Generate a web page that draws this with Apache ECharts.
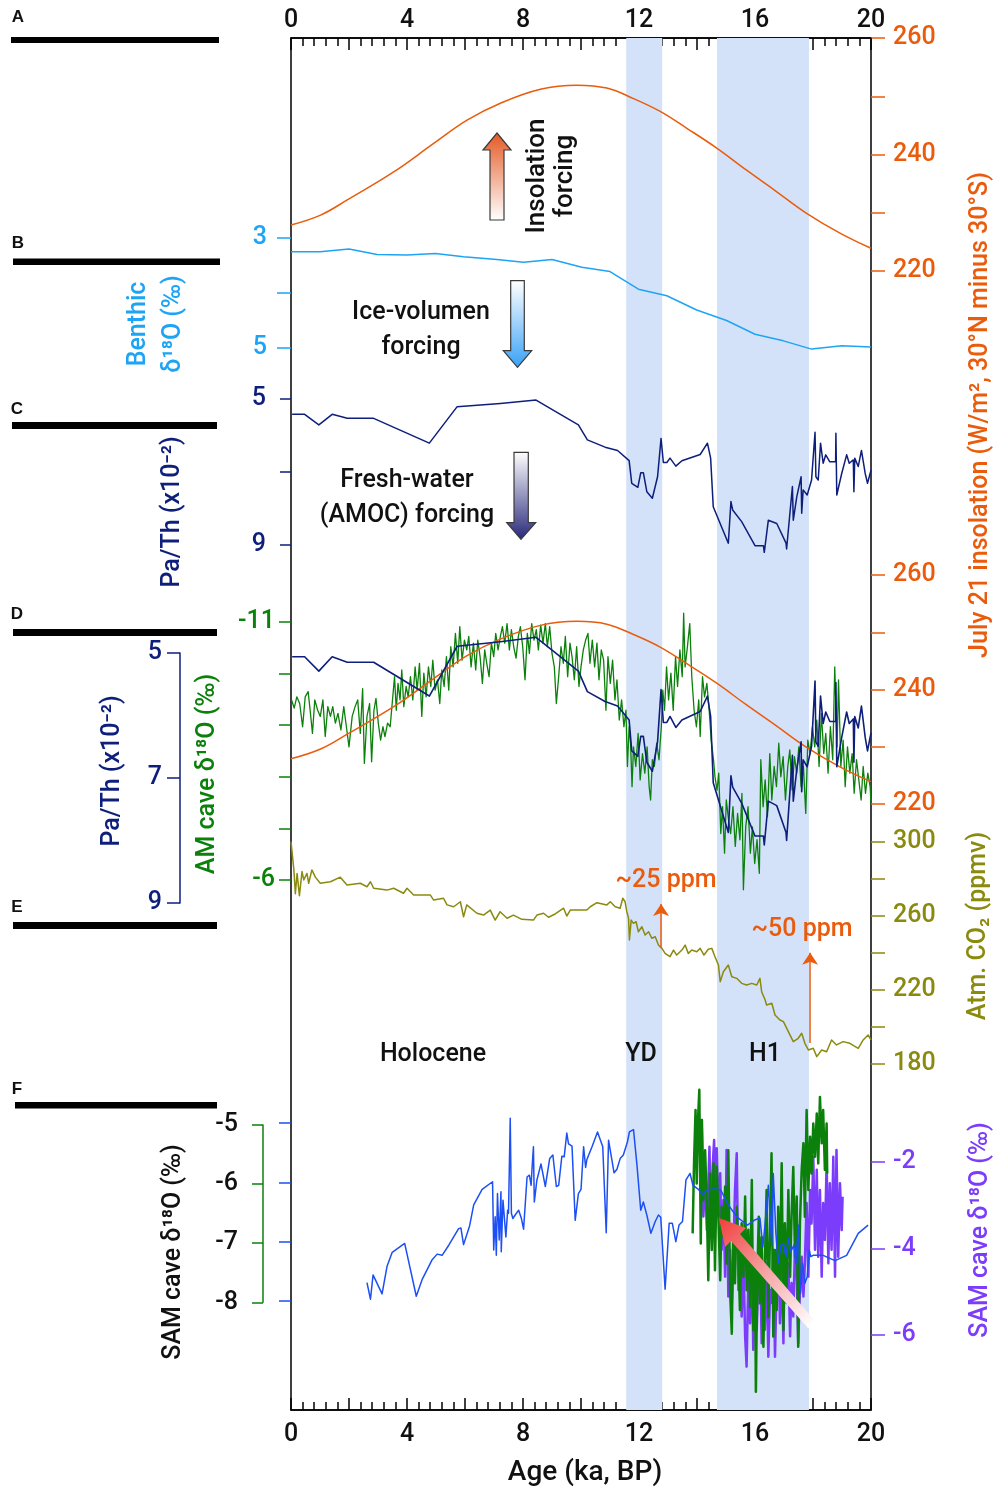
<!DOCTYPE html>
<html><head><meta charset="utf-8">
<script src="https://cdn.jsdelivr.net/npm/echarts@6/dist/echarts.min.js"></script>
<style>html,body{margin:0;padding:0;background:#fff}#c{width:994px;height:1489px}</style>
</head><body><div id="c"></div>
<script>
// ---------------- DATA ----------------
const ageTicks = [0, 4, 8, 12, 16, 20];
const ydBand = [11.56, 12.80];
const h1Band = [14.69, 17.86];

// July 21 insolation (W/m2)
const insolation = [[0,227.9],[1.02,229.6],[1.94,232.2],[3.54,237.0],[4.92,241.9],[6.07,245.9],[7.22,248.8],[8.60,251.2],[9.86,251.9],[10.89,251.4],[11.81,249.6],[12.73,247.4],[13.65,244.5],[14.68,241.1],[15.71,237.3],[16.75,233.6],[17.78,229.9],[18.93,226.5],[20,223.9]];

// Benthic d18O
const benthic = [[0,3.25],[1.0,3.25],[2.0,3.20],[2.97,3.30],[4.0,3.31],[4.98,3.28],[5.95,3.34],[7.1,3.39],[8.02,3.44],[9.0,3.39],[10.03,3.53],[11.0,3.61],[11.98,3.93],[12.96,4.05],[13.99,4.31],[15.02,4.50],[16.0,4.75],[16.98,4.87],[17.95,5.02],[18.99,4.96],[20,4.98]];

// Pa/Th (x10^-2)
const paTh = [[0.04,5.42],[0.47,5.42],[0.96,5.71],[1.42,5.42],[1.94,5.53],[2.85,5.53],[4.77,6.21],[5.73,5.21],[7.22,5.12],[8.45,5.03],[9.91,5.71],[10.22,6.12],[10.83,6.32],[11.26,6.41],[11.66,6.69],[11.75,7.31],[11.96,7.42],[12.06,7.02],[12.15,7.02],[12.27,7.54],[12.46,7.72],[12.64,7.13],[12.76,6.08],[12.84,6.74],[12.96,6.74],[13.07,6.62],[13.27,6.84],[13.48,6.69],[14.11,6.52],[14.36,6.21],[14.47,6.62],[14.56,7.95],[15.08,8.95],[15.17,7.81],[15.23,8.04],[15.54,8.36],[16.0,9.02],[16.29,9.02],[16.32,9.20],[16.46,8.32],[16.75,8.41],[17.07,8.95],[17.09,9.11],[17.15,8.59],[17.29,7.40],[17.32,8.32],[17.44,7.68],[17.59,7.13],[17.61,8.13],[17.66,7.49],[17.80,7.63],[17.95,7.22],[18.07,5.91],[18.10,7.13],[18.18,7.22],[18.26,6.21],[18.35,6.76],[18.44,6.53],[18.58,6.72],[18.78,6.72],[18.79,5.94],[18.82,7.63],[18.99,7.04],[19.16,6.53],[19.25,6.76],[19.39,6.67],[19.41,7.54],[19.44,6.62],[19.56,6.85],[19.67,6.41],[19.80,7.04],[19.88,7.31],[20,6.95]];

// AM cave d18O (permil)
const amCave = [[0.02,-9.49],[0.11,-9.33],[0.20,-9.55],[0.30,-9.42],[0.40,-8.97],[0.49,-9.55],[0.59,-9.65],[0.66,-9.29],[0.74,-8.84],[0.82,-9.49],
[0.92,-9.29],[1.01,-9.17],[1.10,-9.49],[1.18,-8.78],[1.27,-9.36],[1.36,-9.17],[1.44,-9.36],[1.53,-9.04],[1.62,-9.23],[1.72,-8.91],
[1.82,-9.36],[1.91,-8.97],[2.00,-8.58],[2.11,-9.17],[2.21,-9.36],[2.30,-9.49],[2.39,-8.84],[2.47,-9.71],[2.53,-8.26],[2.62,-9.17],
[2.71,-9.42],[2.78,-8.29],[2.86,-9.29],[2.93,-9.52],[3.01,-9.04],[3.09,-8.71],[3.17,-8.97],[3.24,-8.78],[3.33,-9.04],[3.42,-8.97],
[3.50,-9.49],[3.57,-9.94],[3.63,-9.29],[3.69,-9.81],[3.76,-9.49],[3.82,-10.07],[3.89,-9.36],[3.97,-9.75],[4.04,-9.55],[4.12,-9.94],
[4.20,-9.49],[4.28,-10.13],[4.35,-9.68],[4.43,-10.20],[4.51,-9.17],[4.58,-10.01],[4.66,-9.55],[4.74,-10.13],[4.82,-9.75],[4.89,-10.26],
[4.97,-9.68],[5.05,-9.88],[5.13,-9.42],[5.20,-10.07],[5.28,-9.75],[5.36,-10.33],[5.44,-9.68],[5.51,-10.52],[5.59,-10.13],[5.67,-10.78],
[5.75,-10.20],[5.82,-10.91],[5.90,-10.26],[5.98,-10.65],
[6.06,-10.46],[6.13,-10.72],[6.21,-10.13],[6.29,-10.59],[6.37,-10.07],[6.44,-10.65],[6.52,-10.33],[6.60,-9.81],[6.68,-10.46],[6.75,-10.20],
[6.83,-9.94],[6.91,-10.59],[6.99,-10.33],[7.06,-10.78],[7.14,-10.46],[7.22,-10.72],[7.29,-10.91],[7.37,-10.59],[7.45,-10.97],[7.53,-10.46],
[7.60,-10.85],[7.68,-10.52],[7.76,-10.30],[7.84,-10.72],[7.91,-10.91],[7.99,-10.52],[8.07,-9.88],[8.15,-10.78],[8.22,-10.39],[8.30,-10.97],
[8.38,-10.65],[8.46,-10.85],[8.53,-10.46],[8.61,-10.94],[8.69,-10.59],[8.77,-10.97],[8.84,-10.52],[8.92,-10.91],[9.00,-10.39],[9.08,-10.13],
[9.15,-9.42],[9.23,-9.94],[9.31,-10.52],[9.39,-10.20],[9.46,-10.72],[9.54,-9.94],[9.62,-10.59],[9.69,-10.33],[9.77,-9.88],[9.85,-10.52],
[9.93,-9.75],[10.00,-10.13],[10.08,-10.46],[10.16,-10.65],[10.24,-10.78],[10.31,-10.20],[10.39,-10.65],[10.47,-10.13],[10.55,-10.59],[10.62,-9.88],
[10.70,-10.46],[10.78,-10.26],[10.86,-9.29],[10.93,-10.33],[11.01,-9.81],[11.09,-10.26],[11.17,-9.49],[11.24,-9.88],[11.32,-9.10],[11.40,-9.49],
[11.48,-8.97],[11.55,-9.29],[11.60,-8.20],[11.66,-8.97],[11.71,-8.65],[11.76,-7.81],[11.81,-8.58],[11.89,-8.20],[11.97,-8.84],[12.04,-7.94],
[12.12,-8.45],[12.20,-8.07],[12.28,-8.58],[12.35,-7.81],[12.40,-7.55],[12.46,-8.33],[12.53,-8.20],[12.61,-8.65],[12.69,-8.33],[12.77,-8.97],
[12.82,-9.68],[12.88,-9.29],[12.95,-10.13],[13.02,-9.49],[13.10,-10.01],[13.18,-9.29],[13.26,-10.33],[13.33,-9.75],[13.41,-10.46],[13.49,-9.94],
[13.54,-11.17],[13.59,-10.13],[13.67,-10.52],[13.75,-10.97],[13.82,-9.94],[13.90,-9.29],[13.98,-8.97],[14.06,-9.49],[14.11,-8.78],[14.19,-9.94],
[14.26,-9.55],[14.34,-9.81],[14.42,-9.29],[14.49,-8.71],[14.57,-8.33],
[14.62,-8.00],[14.69,-7.74],[14.75,-8.07],[14.82,-6.90],[14.88,-7.42],[14.95,-6.52],[15.01,-7.55],[15.09,-7.16],[15.16,-6.90],[15.24,-7.42],
[15.32,-6.65],[15.40,-7.29],[15.48,-6.78],[15.55,-7.68],[15.60,-5.81],[15.68,-7.03],[15.76,-7.42],[15.84,-6.52],[15.91,-7.03],[15.99,-6.32],
[16.07,-6.78],[16.15,-6.13],[16.20,-8.33],[16.28,-7.42],[16.35,-7.94],[16.43,-7.23],[16.51,-8.45],[16.58,-7.55],[16.66,-8.20],[16.74,-7.81],
[16.82,-8.65],[16.89,-8.00],[16.97,-8.39],[17.05,-7.55],[17.13,-8.20],[17.20,-8.52],[17.28,-7.74],[17.36,-8.39],[17.44,-8.07],[17.51,-8.58],
[17.59,-7.81],[17.67,-8.20],[17.75,-7.29],[17.82,-8.71],[17.90,-8.45],
[17.98,-8.97],[18.06,-8.58],[18.13,-9.10],[18.21,-8.20],[18.29,-9.23],[18.37,-8.45],[18.44,-8.84],[18.52,-8.07],[18.60,-8.97],[18.68,-8.33],
[18.75,-10.13],[18.83,-8.58],[18.88,-9.88],[18.96,-8.20],[19.04,-8.71],[19.11,-7.81],[19.19,-8.58],[19.27,-8.07],[19.35,-8.45],[19.42,-7.68],
[19.50,-8.33],[19.58,-7.94],[19.66,-7.55],[19.73,-8.20],[19.81,-7.68],[19.89,-8.07],[19.97,-7.81],[20.0,-7.49]];

// Atmospheric CO2 (ppmv)
const co2 = [[0.00,300.2],[0.10,284.9],[0.15,272.0],[0.21,283.0],[0.29,271.0],[0.38,284.0],[0.44,279.5],[0.55,283.0],[0.61,277.7],[0.72,284.9],[0.84,281.0],[1.01,277.7],[1.36,278.5],[1.70,281.0],[1.93,276.8],[2.39,277.7],[2.62,275.8],[2.74,278.5],[2.85,275.0],[3.31,274.0],[3.54,275.0],[3.88,272.3],[4.00,275.0],[4.23,271.4],[4.80,271.4],[4.92,268.6],[5.26,269.6],[5.38,266.0],[5.61,265.0],[5.84,267.7],[5.95,259.6],[6.06,266.0],[6.41,261.5],[6.64,260.5],[6.87,263.2],[7.04,257.8],[7.21,262.3],[7.45,258.8],[7.67,260.5],[7.96,258.2],[8.36,257.8],[8.48,260.5],[8.71,261.5],[8.88,259.3],[9.11,261.1],[9.40,264.2],[9.51,260.0],[9.63,263.2],[10.20,263.2],[10.32,265.0],[10.55,267.2],[10.89,266.0],[11.01,267.7],[11.18,265.0],[11.35,264.2],[11.44,269.6],[11.52,267.7],[11.58,262.3],[11.64,258.8],[11.67,247.0],[11.73,257.8],[11.81,256.0],[11.90,256.9],[11.98,251.5],[12.10,254.2],[12.21,249.7],[12.33,251.5],[12.44,248.0],[12.56,248.8],[12.67,244.3],[12.79,242.5],[12.90,239.8],[13.07,238.0],[13.19,241.6],[13.30,238.9],[13.48,241.6],[13.59,244.3],[13.70,239.8],[13.82,241.6],[13.99,240.7],[14.11,242.5],[14.24,238.9],[14.39,242.0],[14.51,242.5],[14.62,238.0],[14.74,233.5],[14.80,224.5],[14.91,229.9],[15.08,233.5],[15.20,227.2],[15.37,226.3],[15.54,223.6],[15.71,222.7],[15.89,223.6],[16.06,222.7],[16.17,226.3],[16.23,219.1],[16.35,214.6],[16.40,211.9],[16.58,212.8],[16.69,206.5],[16.86,203.8],[16.98,202.9],[17.15,197.5],[17.32,192.1],[17.49,193.9],[17.61,196.6],[17.72,191.2],[17.84,187.6],[18.01,188.5],[18.13,184.0],[18.30,187.6],[18.47,186.6],[18.64,193.0],[18.81,190.3],[19.04,192.1],[19.27,191.2],[19.56,188.5],[19.73,193.0],[19.90,195.7],[20.0,193.0]];
const co2Jumps = [[12.76, 242.7, 266.5], [17.90, 191.4, 240.2]];

// SAM cave d18O, blue record (left scale)
const samBlue = [[2.62,-7.69],[2.74,-7.97],[2.83,-7.56],[3.14,-7.88],[3.31,-7.42],[3.49,-7.18],[3.92,-7.03],[4.32,-7.92],[4.52,-7.64],[4.86,-7.31],[5.04,-7.21],[5.21,-7.23],[5.44,-7.06],[5.78,-6.78],[5.86,-6.77],[5.95,-7.05],[6.16,-6.73],[6.30,-6.38],[6.59,-6.12],[6.95,-5.99],[6.99,-7.14],[7.04,-6.58],[7.08,-7.23],[7.12,-6.19],[7.18,-6.97],[7.24,-6.16],[7.25,-7.17],[7.31,-6.30],[7.35,-6.27],[7.41,-6.92],[7.47,-6.47],[7.50,-6.52],[7.56,-4.92],[7.60,-6.52],[7.65,-6.61],[7.73,-6.55],[7.85,-6.47],[7.94,-6.60],[8.02,-6.79],[8.14,-5.91],[8.22,-5.88],[8.28,-6.05],[8.31,-5.78],[8.36,-5.40],[8.39,-6.33],[8.48,-5.96],[8.62,-5.69],[8.77,-6.07],[8.92,-5.60],[9.03,-5.54],[9.15,-6.07],[9.23,-6.05],[9.34,-5.56],[9.42,-5.57],[9.51,-5.17],[9.57,-5.35],[9.69,-5.39],[9.80,-6.64],[9.91,-6.19],[10.00,-6.12],[10.09,-5.40],[10.16,-5.75],[10.20,-5.62],[10.38,-5.40],[10.57,-5.15],[10.75,-5.40],[10.87,-6.85],[10.95,-5.29],[11.14,-5.84],[11.24,-5.78],[11.35,-5.60],[11.46,-5.54],[11.60,-5.32],[11.67,-5.15],[11.81,-5.11],[11.93,-5.71],[12.06,-6.47],[12.15,-6.33],[12.27,-6.55],[12.41,-6.86],[12.56,-6.66],[12.67,-6.55],[12.75,-6.59],[12.90,-7.80],[13.04,-6.69],[13.15,-6.69],[13.27,-7.00],[13.38,-6.72],[13.50,-6.66],[13.62,-5.96],[13.76,-5.85],[13.86,-6.05],[14.05,-6.12],[14.20,-6.20],[14.36,-6.13],[14.56,-6.11],[14.82,-6.13],[15.08,-6.38],[15.37,-6.58],[15.74,-6.72],[15.97,-6.64],[16.17,-6.60],[16.27,-7.09],[16.35,-6.69],[16.46,-6.05],[16.52,-6.58],[16.58,-7.06],[16.63,-5.85],[16.72,-6.86],[16.80,-7.37],[16.89,-7.06],[16.98,-7.03],[17.07,-7.25],[17.15,-6.94],[17.23,-7.17],[17.34,-7.06],[17.41,-7.37],[17.49,-6.72],[17.57,-7.87],[17.64,-7.37],[17.72,-7.70],[17.80,-7.59],[17.87,-7.14],[17.92,-7.25],[18.01,-7.23],[18.35,-7.23],[18.76,-7.32],[19.16,-7.23],[19.56,-6.86],[19.90,-6.72]];

// SAM cave d18O, green record (left scale)
const samGreen = [[13.85,-6.86],[13.90,-5.62],[13.95,-4.78],[13.99,-6.02],[14.04,-4.89],[14.08,-4.44],[14.13,-7.03],[14.17,-4.95],[14.22,-6.30],
[14.28,-5.46],[14.34,-6.41],[14.39,-7.65],[14.45,-5.85],[14.51,-7.14],[14.57,-5.68],[14.62,-7.48],[14.68,-5.74],[14.74,-6.58],[14.80,-7.65],
[14.85,-6.41],[14.91,-6.92],[14.97,-6.07],[15.02,-7.37],[15.08,-5.46],[15.14,-7.82],[15.20,-8.55],[15.25,-6.80],[15.31,-7.70],[15.37,-6.41],
[15.43,-7.25],[15.48,-8.15],[15.54,-6.69],[15.60,-7.59],[15.66,-6.24],[15.71,-7.82],[15.77,-6.80],[15.83,-8.10],[15.89,-5.96],[15.94,-8.49],
[16.00,-7.25],[16.03,-9.53],[16.08,-7.54],[16.13,-6.58],
[16.17,-8.04],[16.23,-6.92],[16.29,-8.77],[16.34,-7.37],[16.40,-6.13],[16.46,-8.27],[16.52,-6.80],[16.57,-5.51],[16.63,-8.60],[16.69,-7.14],
[16.75,-8.15],[16.80,-6.41],[16.86,-7.65],[16.92,-5.68],[16.98,-8.49],[17.03,-6.69],[17.09,-7.82],[17.15,-6.13],[17.21,-7.59],[17.26,-6.58],
[17.32,-5.74],[17.38,-7.25],[17.44,-6.24],[17.49,-8.77],[17.55,-6.69],[17.61,-5.79],[17.67,-5.34],[17.72,-6.58],[17.78,-4.78],[17.84,-6.13],
[17.90,-5.23],[17.95,-5.85],[18.01,-5.01],[18.07,-5.57],[18.13,-4.84],[18.18,-5.68],[18.24,-4.56],[18.30,-5.34],[18.35,-4.78],[18.41,-5.79],
[18.47,-5.01],[18.49,-5.85]];

// SAM cave d18O, purple record (right scale)
const samPurple = [[14.11,-2.65],[14.16,-1.03],[14.22,-3.26],[14.28,-2.34],[14.34,-3.57],[14.43,-1.65],[14.47,-3.42],[14.54,-2.11],[14.59,-1.49],[14.63,-2.80],
[14.68,-1.68],[14.74,-3.26],[14.80,-2.26],[14.85,-4.03],[14.91,-2.88],[14.97,-4.65],[15.02,-1.72],[15.08,-5.11],[15.14,-4.03],[15.20,-5.26],
[15.25,-4.19],[15.31,-2.65],[15.37,-1.80],[15.43,-4.96],[15.48,-3.57],[15.54,-5.57],[15.60,-4.19],[15.66,-6.03],[15.71,-6.73],[15.77,-4.65],
[15.83,-5.73],[15.89,-3.96],[15.94,-6.34],[16.00,-4.65],[16.06,-5.88],[16.12,-4.49],[16.17,-3.88],[16.23,-6.19],[16.29,-4.96],[16.34,-5.88],
[16.40,-4.34],[16.46,-6.50],[16.52,-4.96],[16.57,-5.26],[16.63,-4.03],[16.69,-6.50],[16.75,-4.65],[16.80,-3.72],[16.86,-5.73],[16.92,-4.34],
[16.98,-6.19],[17.03,-3.88],[17.09,-5.26],[17.15,-4.34],[17.21,-6.03],[17.26,-4.80],[17.32,-5.57],[17.38,-3.88],[17.44,-4.65],[17.49,-6.19],
[17.55,-4.96],[17.61,-4.19],[17.67,-5.11],[17.72,-4.34],[17.78,-2.95],[17.84,-4.65],[17.90,-2.65],[17.95,-3.42],[18.01,-1.88],[18.07,-4.03],
[18.13,-2.18],[18.18,-4.19],[18.24,-2.65],[18.30,-4.65],[18.35,-2.95],[18.41,-3.80],[18.47,-2.03],[18.53,-4.34],[18.58,-2.49],[18.64,-4.03],
[18.70,-1.88],[18.76,-4.65],[18.81,-1.72],[18.87,-4.19],[18.93,-2.49],[18.99,-3.57],[19.02,-2.80]];

// tick values
const insTicks = [220, 230, 240, 250, 260], insLabels = [220, 240, 260];
const benTicks = [3, 4, 5], benLabels = [3, 5];
const paTicks = [5, 7, 9], paLabelsC = [5, 9];
const amTicks = [-11, -10, -9, -8, -7, -6], amLabels = [-11, -6];
const co2Ticks = [180, 200, 220, 240, 260, 280, 300], co2Labels = [180, 220, 260, 300];
const samTicks = [-5, -6, -7, -8];
const purpleTicks = [-2, -4, -6];

// ---------------- STYLE ----------------
const C = {
  orange: '#ea5b0c', lblue: '#1ea4f4', navy: '#0e1f7b', green: '#0b800b',
  olive: '#8a8a0e', sblue: '#1c4ff4', purple: '#7b3cfb', band: '#d3e2f9', ink: '#111'
};
const FONT = 'Roboto';
const L = 291, W = 580;

function mapGrid(va, pa, vb, pb, vmin, vmax) {
  const k = (pb - pa) / (vb - va);
  const p1 = pa + (vmin - va) * k, p2 = pa + (vmax - va) * k;
  return { top: Math.min(p1, p2), height: Math.abs(p2 - p1), inverse: p1 < p2, vmin, vmax };
}
const M = {
  insA: mapGrid(260, 38, 220, 271, 220, 260),
  ben: mapGrid(3, 238, 5, 348, 2.8, 5.2),
  paC: mapGrid(5, 399, 9, 545, 4.5, 9.5),
  paD: mapGrid(5, 635.8, 9, 835, 4.5, 9.5),
  paDbr: mapGrid(5, 653, 9, 903, 5, 9),
  am: mapGrid(-11, 622, -6, 880, -11.5, -5.5),
  insD: mapGrid(260, 575, 220, 804, 220, 260),
  co2: mapGrid(300, 842, 180, 1064, 175, 305),
  sam: mapGrid(-5, 1123, -8, 1301, -10, -4),
  sambr: mapGrid(-5, 1125, -8, 1302.3, -8, -5),
  pur: mapGrid(-2, 1162, -6, 1335, -8, 0)
};
const order = [
  ['insA', L, W], ['ben', L, W], ['paC', L, W], ['paD', L, W], ['paDbr', 180, 1],
  ['am', L, W], ['insD', L, W], ['co2', L, W], ['sam', L, W], ['sambr', 263, 1], ['pur', L, W]
];
const gi = {}; order.forEach((o, i) => gi[o[0]] = i + 1);

const grids = [{ left: L, width: W, top: 38, height: 1372, show: true, borderColor: '#000', borderWidth: 1.5,
  backgroundColor: 'rgba(0,0,0,0)', outerBoundsMode: 'none', containLabel: false }];
order.forEach(o => { const m = M[o[0]]; grids.push({ left: o[1], width: o[2], top: m.top, height: m.height, outerBoundsMode: 'none', containLabel: false }); });

const xAxes = [];
const xCommon = {
  type: 'value', min: 0, max: 20, interval: 2,
  axisLine: { show: true, onZero: false, lineStyle: { color: '#000', width: 1.5 } },
  axisTick: { show: true, inside: true, length: 12, lineStyle: { color: '#000', width: 1.5 } },
  minorTick: { show: true, splitNumber: 5, length: 8, lineStyle: { color: '#000', width: 1.5 } },
  splitLine: { show: false }, minorSplitLine: { show: false },
  axisLabel: { fontSize: 25, fontWeight: 500, fontFamily: FONT, color: C.ink,
    formatter: v => (ageTicks.indexOf(v) >= 0 ? String(v) : '') }
};
xAxes.push(Object.assign({}, xCommon, { gridIndex: 0, position: 'top', axisLabel: Object.assign({}, xCommon.axisLabel, { margin: 5 }) }));
xAxes.push(Object.assign({}, xCommon, { gridIndex: 0, position: 'bottom', axisLabel: Object.assign({}, xCommon.axisLabel, { margin: 12 }) }));
order.forEach((o, i) => {
  const bracket = o[2] === 1;
  xAxes.push({ gridIndex: i + 1, type: 'value', min: 0, max: bracket ? 1 : 20, show: false, axisLine: { onZero: false } });
});

function ticks(vals, len, color) { return { show: true, customValues: vals, length: len, inside: false, lineStyle: { color, width: 1.5 } }; }
function labels(vals, color, margin) { return { show: true, customValues: vals, color, margin, fontSize: 25, fontWeight: 500, fontFamily: FONT }; }
function yAx(key, pos, o) {
  const m = M[key];
  const base = { gridIndex: gi[key], type: 'value', position: pos, min: m.vmin, max: m.vmax, inverse: m.inverse,
    splitLine: { show: false }, axisLine: { show: false, onZero: false }, axisTick: { show: false }, axisLabel: { show: false } };
  const r = Object.assign(base, o || {});
  r.axisLine = Object.assign({ onZero: false }, r.axisLine, { onZero: false });
  return r;
}
const yAxes = [
  { gridIndex: 0, type: 'value', min: 0, max: 1, show: false, axisLine: { onZero: false } },
  yAx('insA', 'right', { axisTick: ticks(insTicks, 14, C.orange), axisLabel: labels(insLabels, C.orange, 22) }),
  yAx('ben', 'left', { axisTick: ticks(benTicks, 14, C.lblue), axisLabel: labels(benLabels, C.lblue, 24) }),
  yAx('paC', 'left', { axisTick: ticks(paTicks, 11, C.navy), axisLabel: labels(paLabelsC, C.navy, 25) }),
  yAx('paD', 'left'),
  yAx('paDbr', 'left', { axisLine: { show: true, lineStyle: { color: C.navy, width: 1.5 } }, axisTick: ticks(paTicks, 13, C.navy), axisLabel: labels(paTicks, C.navy, 18) }),
  yAx('am', 'left', { axisTick: ticks(amTicks, 12, C.green), axisLabel: labels(amLabels, C.green, 16) }),
  yAx('insD', 'right', { axisTick: ticks(insTicks, 14, C.orange), axisLabel: labels(insLabels, C.orange, 22) }),
  yAx('co2', 'right', { axisTick: ticks(co2Ticks, 14, C.olive), axisLabel: labels(co2Labels, C.olive, 22) }),
  yAx('sam', 'left', { axisTick: ticks(samTicks, 12, C.sblue) }),
  yAx('sambr', 'left', { axisLine: { show: true, lineStyle: { color: C.green, width: 1.5 } }, axisTick: ticks(samTicks, 11, C.green), axisLabel: labels(samTicks, C.ink, 25) }),
  yAx('pur', 'right', { axisTick: ticks(purpleTicks, 14, C.purple), axisLabel: labels(purpleTicks, C.purple, 22) })
];

function ln(key, data, color, width, z, extra) {
  const g = gi[key];
  return Object.assign({ type: 'line', xAxisIndex: g + 1, yAxisIndex: g, data, symbol: 'none', showSymbol: false, clip: false,
    lineStyle: { color, width, join: 'round' }, itemStyle: { color }, z, silent: true, animation: false }, extra || {});
}

const series = [
  { type: 'line', xAxisIndex: 0, yAxisIndex: 0, data: [[0, 0.5]], symbol: 'none', lineStyle: { opacity: 0 }, silent: true, z: 1, animation: false,
    markArea: { silent: true, itemStyle: { color: C.band }, data: [[{ xAxis: ydBand[0] }, { xAxis: ydBand[1] }], [{ xAxis: h1Band[0] }, { xAxis: h1Band[1] }]] } },
  ln('insA', insolation, C.orange, 1.5, 4, { smooth: 0.4 }),
  ln('ben', benthic, C.lblue, 1.5, 4),
  ln('paC', paTh, C.navy, 1.5, 4),
  ln('am', amCave, C.green, 1.3, 3),
  ln('insD', insolation, C.orange, 1.5, 4, { smooth: 0.4 }),
  ln('paD', paTh, C.navy, 1.6, 5),
  ln('co2', co2, C.olive, 1.5, 4, {
    markLine: { silent: true, symbol: ['none', 'arrow'], symbolSize: 12, animation: false, label: { show: false },
      lineStyle: { color: C.orange, width: 1.5, type: 'solid' },
      data: co2Jumps.map(j => [{ coord: [j[0], j[1]] }, { coord: [j[0], j[2]] }]) } }),
  ln('pur', samPurple, C.purple, 2.5, 3),
  ln('sam', samGreen, C.green, 2.5, 4),
  ln('sam', samBlue, C.sblue, 1.5, 5)
];

function txt(x, y, text, o) {
  return { type: 'text', x, y, rotation: o.rot || 0, z: 100, silent: true,
    style: { text, fill: o.color || C.ink, fontSize: o.size || 25, fontWeight: o.weight || 500, fontFamily: o.family || FONT,
      textAlign: 'center', textVerticalAlign: 'middle', align: 'center', verticalAlign: 'middle', lineHeight: o.lh || undefined } };
}
const R = Math.PI / 2;
function poly(points, fill, stroke) { return { type: 'polygon', z: 99, silent: true, shape: { points }, style: { fill, stroke: stroke || null, lineWidth: stroke ? 1.2 : 0 } }; }
function vgrad(y1, y2, c1, c2) { return { type: 'linear', x: 0, y: y1, x2: 0, y2: y2, global: true, colorStops: [{ offset: 0, color: c1 }, { offset: 1, color: c2 }] }; }

const graphic = [
  { type: 'rect', z: 100, shape: { x: 11, y: 37, width: 208, height: 6 }, style: { fill: '#000' } },
  { type: 'rect', z: 100, shape: { x: 13, y: 258.5, width: 207, height: 6.5 }, style: { fill: '#000' } },
  { type: 'rect', z: 100, shape: { x: 12, y: 422, width: 205, height: 7 }, style: { fill: '#000' } },
  { type: 'rect', z: 100, shape: { x: 13, y: 629, width: 204, height: 7 }, style: { fill: '#000' } },
  { type: 'rect', z: 100, shape: { x: 13, y: 922, width: 204, height: 7 }, style: { fill: '#000' } },
  { type: 'rect', z: 100, shape: { x: 15, y: 1102, width: 202, height: 6.5 }, style: { fill: '#000' } },
  txt(18, 17, 'A', { size: 17, weight: 'bold', family: 'Liberation Sans' }),
  txt(18, 243, 'B', { size: 17, weight: 'bold', family: 'Liberation Sans' }),
  txt(17, 409, 'C', { size: 17, weight: 'bold', family: 'Liberation Sans' }),
  txt(17, 614, 'D', { size: 17, weight: 'bold', family: 'Liberation Sans' }),
  txt(17, 907, 'E', { size: 17, weight: 'bold', family: 'Liberation Sans' }),
  txt(17, 1089, 'F', { size: 17, weight: 'bold', family: 'Liberation Sans' }),
  txt(156, 324, 'Benthic\nδ¹⁸O (‰)', { rot: R, color: C.lblue, lh: 35 }),
  txt(173, 512, 'Pa/Th (x10⁻²)', { rot: R, color: C.navy }),
  txt(113, 771, 'Pa/Th (x10⁻²)', { rot: R, color: C.navy }),
  txt(208, 774, 'AM cave δ¹⁸O (‰)', { rot: R, color: C.green }),
  txt(174, 1252, 'SAM cave δ¹⁸O (‰)', { rot: R, color: C.ink }),
  txt(981, 415, 'July 21 insolation (W/m², 30°N minus 30°S)', { rot: R, color: C.orange }),
  txt(979, 926, 'Atm. CO₂ (ppmv)', { rot: R, color: C.olive }),
  txt(981, 1230, 'SAM cave δ¹⁸O (‰)', { rot: R, color: C.purple }),
  txt(585, 1473, 'Age (ka, BP)', { size: 28 }),
  txt(551, 176, 'Insolation\nforcing', { rot: R, size: 26, lh: 28 }),
  txt(421, 330.5, 'Ice-volumen\nforcing', { size: 25, lh: 35 }),
  txt(407, 498.5, 'Fresh-water\n(AMOC) forcing', { size: 25, lh: 35 }),
  txt(666, 881, '~25 ppm', { color: C.orange, size: 25 }),
  txt(802, 930, '~50 ppm', { color: C.orange, size: 25 }),
  txt(433, 1055, 'Holocene', { size: 25 }),
  txt(641, 1055, 'YD', { size: 25 }),
  txt(765, 1055, 'H1', { size: 25 }),
  poly([[497, 133], [511, 150], [504, 150], [504, 220], [490, 220], [490, 150], [483, 150]], vgrad(133, 220, '#e45a26', '#ffffff'), '#3a3a3a'),
  poly([[510.7, 280.7], [524.3, 280.7], [524.3, 350.7], [531.7, 350.7], [517.5, 367.3], [503.3, 350.7], [510.7, 350.7]], vgrad(281, 367, '#ffffff', '#3aa2f6'), '#3a3a3a'),
  poly([[514, 452.3], [528.3, 452.3], [528.3, 522.7], [535.7, 522.7], [521, 539.3], [506.7, 522.7], [514, 522.7]], vgrad(452, 539, '#ffffff', '#2a2a7c'), '#3a3a3a'),
  poly([[719, 1218], [746, 1228], [740, 1234], [815.8, 1321.7], [808.2, 1328.3], [731, 1241], [725, 1247]],
    { type: 'linear', x: 812, y: 1325, x2: 719, y2: 1218, global: true, colorStops: [{ offset: 0, color: '#ffffff' }, { offset: 0.5, color: '#f5a3a3' }, { offset: 1, color: '#f23e3e' }] })
];

const chart = echarts.init(document.getElementById('c'), null, { renderer: 'canvas', width: 994, height: 1489 });
chart.setOption({
  animation: false,
  backgroundColor: '#fff',
  textStyle: { fontFamily: FONT },
  grid: grids, xAxis: xAxes, yAxis: yAxes, series, graphic
});
</script></body></html>
